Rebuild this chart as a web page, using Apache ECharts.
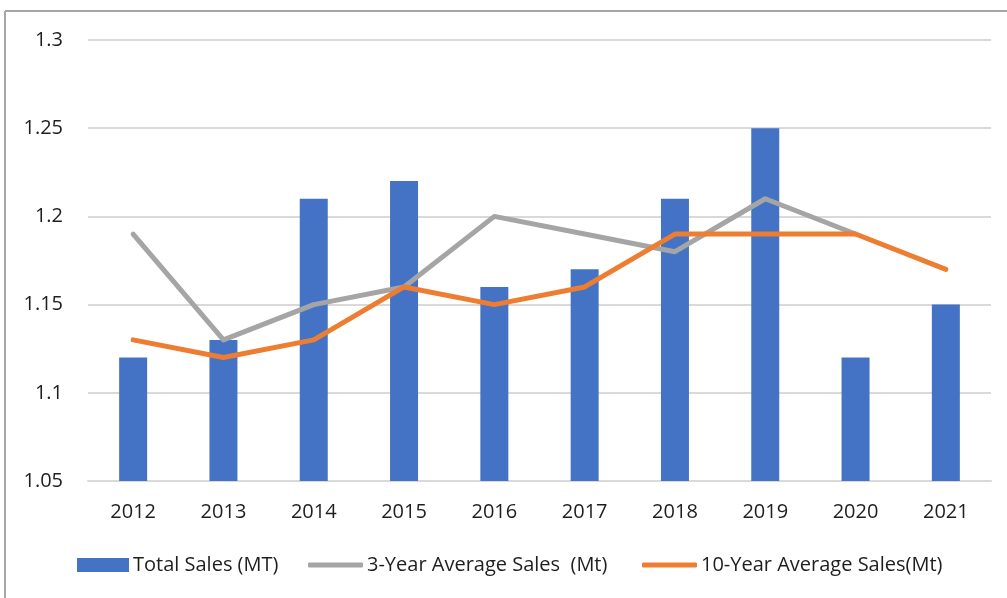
<!DOCTYPE html>
<html>
<head>
<meta charset="utf-8">
<script src="https://cdn.jsdelivr.net/npm/echarts@6/dist/echarts.min.js"></script>
<style>
html,body{margin:0;padding:0;background:#fff;}
#c{width:1007px;height:598px;}
</style>
</head>
<body>
<div id="c"></div>
<script>
const years = ['2012','2013','2014','2015','2016','2017','2018','2019','2020','2021'];
const totalSales = [1.12, 1.13, 1.21, 1.22, 1.16, 1.17, 1.21, 1.25, 1.12, 1.15];
const avg3 = [1.19, 1.13, 1.15, 1.16, 1.20, 1.19, 1.18, 1.21, 1.19, null];
const avg10 = [1.13, 1.12, 1.13, 1.16, 1.15, 1.16, 1.19, 1.19, 1.19, 1.17];
const seriesNames = ['Total Sales (MT)', '3-Year Average Sales  (Mt)', '10-Year Average Sales(Mt)'];

const FONT = 'Open Sans';
const FS = 20;
const TXT = '#1e1e1e';
const chart = echarts.init(document.getElementById('c'), null, {renderer: 'canvas'});
const legendText = {fontFamily: FONT, fontSize: FS, color: TXT, lineHeight: 24, padding: [0, 0, 0, -1]};
chart.setOption({
  animation: false,
  backgroundColor: '#fff',
  textStyle: {fontFamily: FONT},
  graphic: [
    {type: 'line', shape: {x1: 5, y1: 11, x2: 1007, y2: 11}, style: {stroke: '#a6a6a6', lineWidth: 2}},
    {type: 'line', shape: {x1: 5, y1: 11, x2: 5, y2: 598}, style: {stroke: '#a6a6a6', lineWidth: 2}}
  ],
  grid: {left: 88, right: 16, top: 40, bottom: 117, containLabel: false},
  legend: [
    {
      left: 77, top: 553, padding: 0,
      itemWidth: 52, itemHeight: 14,
      textStyle: legendText,
      data: [{name: seriesNames[0], icon: 'rect'}]
    },
    {
      left: 308, top: 553, padding: 0,
      itemWidth: 55, itemHeight: 5,
      textStyle: legendText,
      data: [{name: seriesNames[1], icon: 'roundRect'}]
    },
    {
      left: 642, top: 553, padding: 0,
      itemWidth: 55, itemHeight: 5,
      textStyle: legendText,
      data: [{name: seriesNames[2], icon: 'roundRect'}]
    }
  ],
  xAxis: {
    type: 'category',
    data: years,
    axisLine: {show: true, lineStyle: {color: '#d9d9d9', width: 2}},
    axisTick: {show: false},
    axisLabel: {fontFamily: FONT, fontSize: FS, color: TXT, margin: 21}
  },
  yAxis: {
    type: 'value',
    min: 1.05, max: 1.3, interval: 0.05,
    axisLine: {show: false},
    axisTick: {show: false},
    splitLine: {lineStyle: {color: '#d9d9d9', width: 2}},
    axisLabel: {fontFamily: FONT, fontSize: FS, color: TXT, margin: 25,
      formatter: v => String(+v.toFixed(2))}
  },
  series: [
    {
      name: seriesNames[0], type: 'bar', data: totalSales,
      barWidth: '31%', itemStyle: {color: '#4472C4'}
    },
    {
      name: seriesNames[1], type: 'line', data: avg3,
      symbol: 'none', showSymbol: false,
      lineStyle: {color: '#A5A5A5', width: 5, cap: 'round', join: 'round'},
      itemStyle: {color: '#A5A5A5'}
    },
    {
      name: seriesNames[2], type: 'line', data: avg10,
      symbol: 'none', showSymbol: false,
      lineStyle: {color: '#ED7D31', width: 5, cap: 'round', join: 'round'},
      itemStyle: {color: '#ED7D31'}
    }
  ]
});
</script>
</body>
</html>
